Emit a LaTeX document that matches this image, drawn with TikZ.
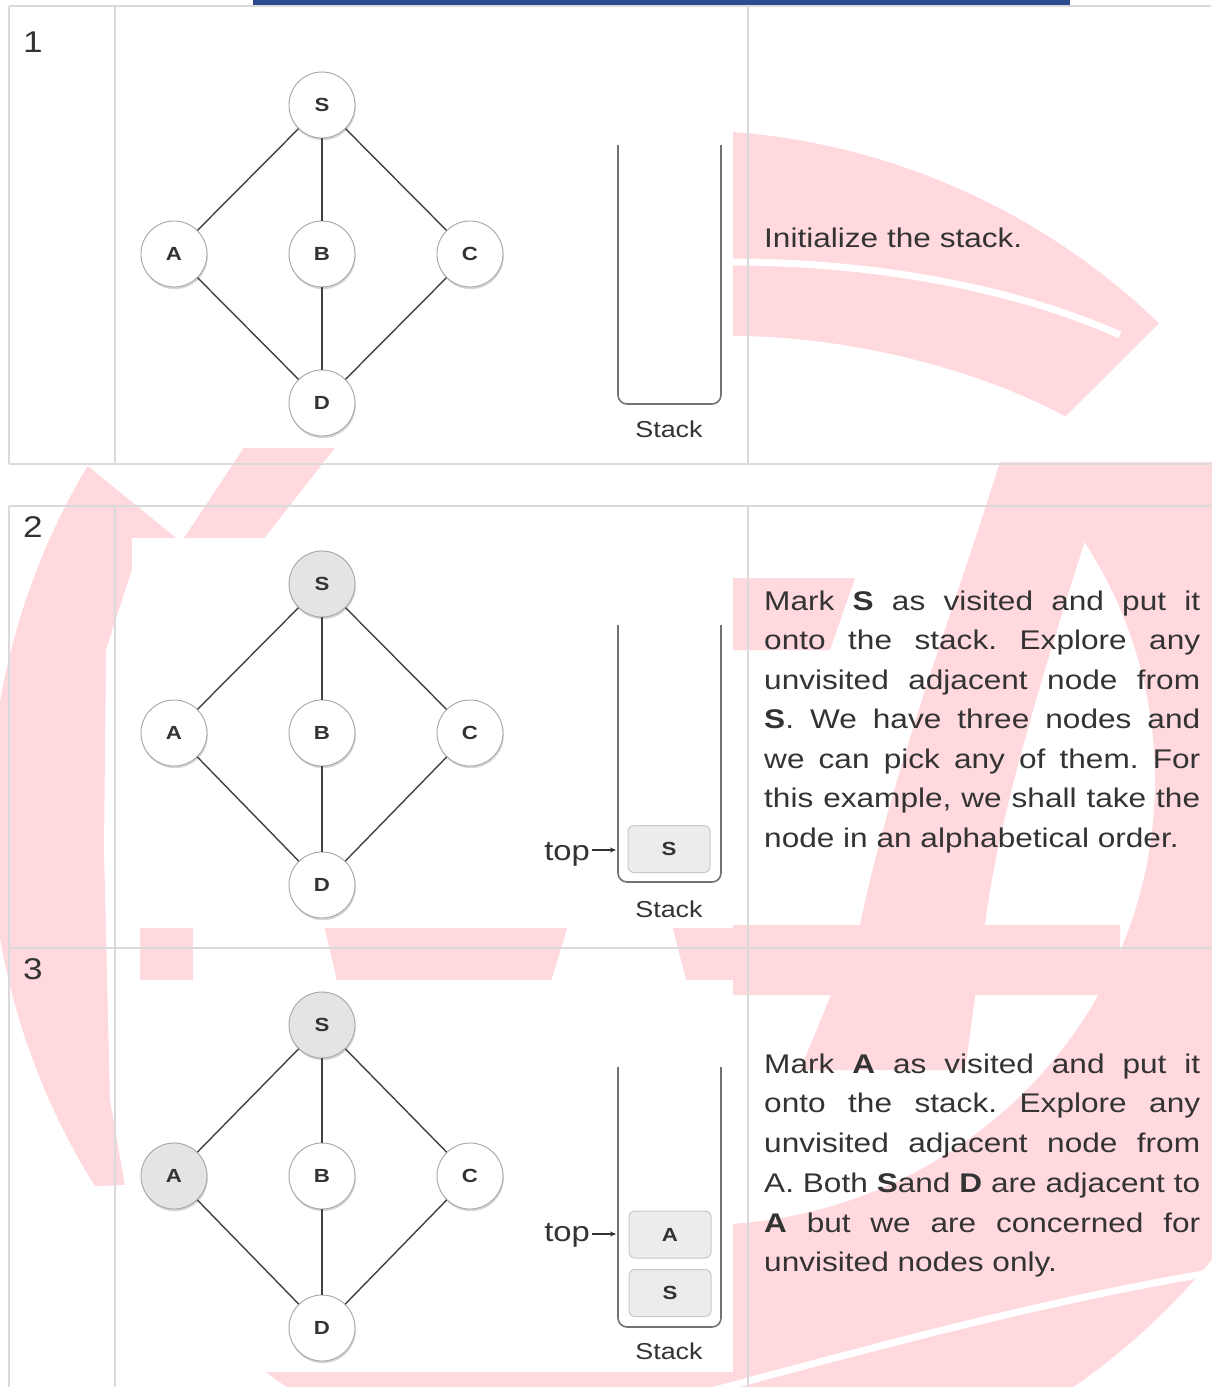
\documentclass[tikz,border=0pt]{standalone}
\usepackage{fontspec}
\setmainfont[FakeStretch=1.17]{Liberation Sans}
\usetikzlibrary{shadows,arrows.meta}
\definecolor{wm}{RGB}{255,217,222}
\definecolor{txt}{RGB}{51,51,51}
\definecolor{gridcol}{RGB}{218,218,218}
\definecolor{barblue}{RGB}{46,74,145}
\definecolor{visited}{RGB}{228,228,228}
\definecolor{boxfill}{RGB}{236,236,236}
\definecolor{boxline}{RGB}{200,200,200}
\definecolor{edgecol}{RGB}{65,65,65}
\newcommand\mypfont{\fontsize{27}{39.5}\selectfont}
\newcommand\mynumfont{\fontsize{30}{30}\selectfont}
\newcommand\mylblfont{\fontsize{19}{19}\selectfont\bfseries}
\newcommand\mystkfont{\fontsize{23}{23}\selectfont}
\newcommand\mytopfont{\fontsize{28}{28}\selectfont}
% #1 suffix, #2 y of S, #3 y of A/B/C, #4 y of D, #5 fill of S, #6 fill of A
\newcommand\drawgraph[6]{%
  \node[gnode, fill=#5] (S#1) at (322,#2) {S};
  \node[gnode, fill=#6] (A#1) at (174,#3) {A};
  \node[gnode] (B#1) at (322,#3) {B};
  \node[gnode] (C#1) at (470,#3) {C};
  \node[gnode] (D#1) at (322,#4) {D};
  \draw[gedge] (S#1) -- (A#1);
  \draw[gedge] (S#1) -- (B#1);
  \draw[gedge] (S#1) -- (C#1);
  \draw[gedge] (A#1) -- (D#1);
  \draw[gedge] (B#1) -- (D#1);
  \draw[gedge] (C#1) -- (D#1);
}
\frenchspacing
\begin{document}
\begin{tikzpicture}[x=1pt,y=-1pt,
  gnode/.style={circle, draw=black!35, line width=0.9pt, fill=white, minimum size=66pt, inner sep=0pt, font=\mylblfont, text=txt, drop shadow={shadow xshift=0.8pt, shadow yshift=-2.2pt, opacity=0.35, fill=black!45}},
  gedge/.style={draw=edgecol, line width=1.4pt},
  stackline/.style={draw=black!55, line width=1.6pt, rounded corners=9pt},
  sbox/.style={rectangle, rounded corners=6pt, draw=boxline, fill=boxfill, line width=1pt, minimum width=82pt, minimum height=47pt, inner sep=0pt, font=\mylblfont, text=txt},
  gridline/.style={draw=gridcol, line width=1.5pt},
  ptext/.style={anchor=base west, inner sep=0pt, font=\mypfont, text=txt},
  numtext/.style={anchor=base west, inner sep=0pt, font=\mynumfont, text=txt},
  stk/.style={anchor=base, inner sep=0pt, font=\mystkfont, text=txt},
  toptext/.style={anchor=base east, inner sep=0pt, font=\mytopfont, text=txt},
  toparrow/.style={draw=txt, line width=1.1pt, -{Stealth[length=6pt,width=5pt]}},
  wmcut/.style={fill=white},
]
\useasboundingbox (0,0) rectangle (1211,1387);
\fill[white] (0,0) rectangle (1211,1387);
% ---------- watermark ----------
\fill[wm, even odd rule] (680,820) circle[radius=690pt] (700,780) ellipse[x radius=455pt, y radius=445pt];
\fill[wmcut] (1320,163) -- (1020,462) -- (1240,462) -- (1320,400) -- cycle;
\fill[wmcut] (733,336) .. controls (850,336) and (980,370) .. (1066,417) -- (1020,463) -- (733,463) -- cycle;
\fill[wmcut] (0,466) -- (88,466) -- (180,541) -- (700,541) -- (700,-10) -- (0,-10) -- cycle;
\fill[wmcut] (140,545) -- (106,650) -- (104,850) -- (110,1100) -- (125,1185) -- (0,1190) -- (0,1400) -- (140,1400) -- cycle;
\fill[wmcut] (193,925) rectangle (324,985);
\fill[wm] (249,440) -- (341,440) -- (262,541) -- (182,541) -- cycle;
\fill[wm] (324,925) -- (568,925) -- (550,985) -- (338,985) -- cycle;
\fill[wm] (672,925) -- (1120,925) -- (1120,995) -- (690,995) -- cycle;
\fill[wm] (1000,462) -- (1110,462) .. controls (1060,620) and (1000,800) .. (985,925)
  -- (965,1070) -- (800,1070) -- (860,925) .. controls (890,780) and (950,620) .. (1000,462) -- cycle;
\fill[wm] (733,578) -- (855,578) -- (830,650) -- (733,650) -- cycle;
\draw[white, line width=7pt] (733,262) .. controls (880,262) and (1020,290) .. (1120,335);
\draw[white, line width=7pt] (700,1394) .. controls (900,1340) and (1050,1300) .. (1215,1272);
% ---------- image backgrounds ----------
\fill[white] (132,8) rectangle (733,448);
\fill[white] (132,538) rectangle (733,928);
\fill[white] (132,980) rectangle (733,1372);
% ---------- table ----------
\fill[barblue] (253,0) rectangle (1070,5);
\draw[gridline] (9,6) -- (1211,6);
\draw[gridline] (9,464) -- (1211,464);
\draw[gridline] (9,6) -- (9,464);
\draw[gridline] (115,6) -- (115,464);
\draw[gridline] (748,6) -- (748,464);
\draw[gridline] (9,506) -- (1211,506);
\draw[gridline] (9,948) -- (1211,948);
\draw[gridline] (9,506) -- (9,1387);
\draw[gridline] (115,506) -- (115,1387);
\draw[gridline] (748,506) -- (748,1387);
\node[numtext] (n1) at (23,52) {1};
\node[numtext] (n2) at (23,537) {2};
\node[numtext] (n3) at (23,979) {3};
% ---------- graphs ----------
\drawgraph{1}{105}{254}{403}{white}{white}
\drawgraph{2}{584}{733}{885}{visited}{white}
\drawgraph{3}{1025}{1176}{1328}{visited}{visited}
% ---------- stacks ----------
\draw[stackline] (618,145) -- (618,404) -- (721,404) -- (721,145);
\node[stk] (st1) at (669,437) {Stack};
\draw[stackline] (618,625) -- (618,882) -- (721,882) -- (721,625);
\node[sbox] (bs2) at (669,849) {S};
\node[stk] (st2) at (669,917) {Stack};
\node[toptext] (top2) at (590,860) {top};
\coordinate (tp2) at (616,850);
\draw[toparrow] ([xshift=2pt]top2.east |- tp2) -- (tp2);
\draw[stackline] (618,1067) -- (618,1327) -- (721,1327) -- (721,1067);
\node[sbox] (ba3) at (670,1234.5) {A};
\node[sbox] (bs3) at (670,1293) {S};
\node[stk] (st3) at (669,1359) {Stack};
\node[toptext] (top3) at (590,1241) {top};
\coordinate (tp3) at (616,1234);
\draw[toparrow] ([xshift=2pt]top3.east |- tp3) -- (tp3);
% ---------- texts ----------
\node[ptext] (r1l1) at (764,247) {Initialize the stack.};
\node[ptext] (r2l1) at (764,610) {\makebox[436pt][s]{Mark \textbf{S} as visited and put it}};
\node[ptext] (r2l2) at (764,649.5) {\makebox[436pt][s]{onto the stack. Explore any}};
\node[ptext] (r2l3) at (764,689) {\makebox[436pt][s]{unvisited adjacent node from}};
\node[ptext] (r2l4) at (764,728.5) {\makebox[436pt][s]{\textbf{S}. We have three nodes and}};
\node[ptext] (r2l5) at (764,768) {\makebox[436pt][s]{we can pick any of them. For}};
\node[ptext] (r2l6) at (764,807.5) {\makebox[436pt][s]{this example, we shall take the}};
\node[ptext] (r2l7) at (764,847) {node in an alphabetical order.};
\node[ptext] (r3l1) at (764,1073) {\makebox[436pt][s]{Mark \textbf{A} as visited and put it}};
\node[ptext] (r3l2) at (764,1112.7) {\makebox[436pt][s]{onto the stack. Explore any}};
\node[ptext] (r3l3) at (764,1152.5) {\makebox[436pt][s]{unvisited adjacent node from}};
\node[ptext] (r3l4) at (764,1192.2) {\makebox[436pt][s]{A. Both \textbf{S}and \textbf{D} are adjacent to}};
\node[ptext] (r3l5) at (764,1232) {\makebox[436pt][s]{\textbf{A} but we are concerned for}};
\node[ptext] (r3l6) at (764,1271.7) {unvisited nodes only.};
\end{tikzpicture}
\end{document}
